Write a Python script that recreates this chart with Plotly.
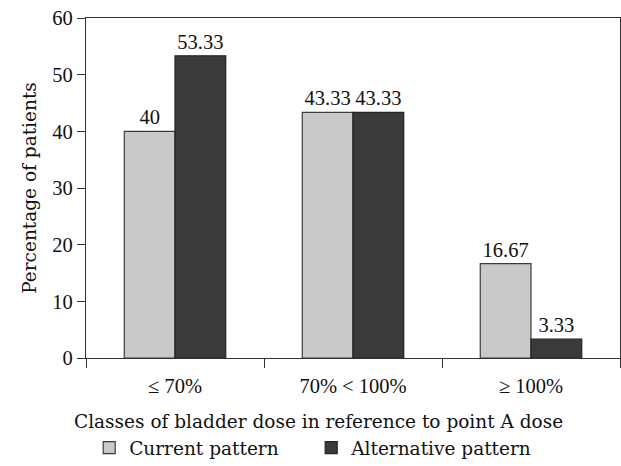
import plotly.graph_objects as go

categories = ["\u2264 70%", "70% < 100%", "\u2265 100%"]
current = [40, 43.33, 16.67]
alternative = [53.33, 43.33, 3.33]
current_labels = ["40", "43.33", "16.67"]
alternative_labels = ["53.33", "43.33", "3.33"]

FONT = "DejaVu Serif"
NUMFONT = "Liberation Serif"
fs = 18.5
nfs = 20.5
TXT = "#111"

fig = go.Figure()
fig.add_trace(go.Bar(
    x=categories, y=current, name="Current pattern",
    marker=dict(color="#c9c9c9", line=dict(color="#3c3c3c", width=1.2)),
    text=current_labels, textposition="outside", cliponaxis=False,
    textfont=dict(family=NUMFONT, size=nfs, color=TXT),
))
fig.add_trace(go.Bar(
    x=categories, y=alternative, name="Alternative pattern",
    marker=dict(color="#3a3a3a", line=dict(color="#222", width=1.2)),
    text=alternative_labels, textposition="outside", cliponaxis=False,
    textfont=dict(family=NUMFONT, size=nfs, color=TXT),
))

fig.update_layout(
    width=621, height=466,
    margin=dict(l=86, r=1, t=18, b=108, autoexpand=False),
    paper_bgcolor="white", plot_bgcolor="white",
    barmode="group", bargap=0.43, bargroupgap=0,
    font=dict(family=FONT, size=fs, color=TXT),
    showlegend=True,
    legend=dict(orientation="h", x=0.006, xanchor="left", y=-0.265, yanchor="middle",
                font=dict(family=FONT, size=fs, color=TXT),
                entrywidth=177, entrywidthmode="pixels",
                itemclick=False, traceorder="normal"),
    xaxis=dict(
        showline=True, linecolor="#333", linewidth=1.2, mirror=True, automargin=False,
        ticks="outside", tickson="boundaries", ticklen=9, tickcolor="#333", tickwidth=1.2,
        tickfont=dict(family=NUMFONT, size=nfs, color=TXT), ticklabelstandoff=9,
        showgrid=False, zeroline=False,
    ),
    yaxis=dict(
        range=[0, 60], dtick=10, showline=True, linecolor="#333", linewidth=1.2, mirror=True,
        automargin=False,
        ticks="outside", ticklen=8, tickcolor="#333", tickwidth=1.2,
        tickfont=dict(family=NUMFONT, size=nfs, color=TXT),
        showgrid=False, zeroline=False,
        title=dict(text="Percentage of patients", font=dict(family=FONT, size=fs, color=TXT), standoff=10),
    ),
    annotations=[dict(
        text="Classes of bladder dose in reference to point A dose",
        xref="paper", yref="paper", x=(318 - 86) / 534, y=(358 - 421) / 340,
        xanchor="center", yanchor="middle",
        showarrow=False, font=dict(family=FONT, size=fs, color=TXT),
    )],
)

fig.write_html("out.html", config={"responsive": False, "displayModeBar": False},
               post_script="document.body.style.margin='0';document.body.style.overflow='hidden';")
